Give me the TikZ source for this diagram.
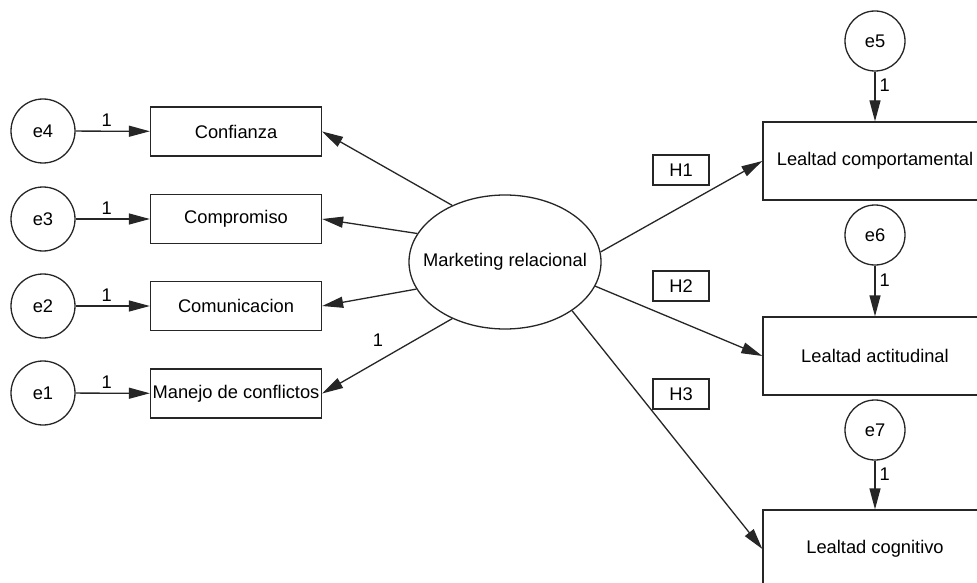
\documentclass[tikz,border=0pt]{standalone}
\usepackage{fontspec}
\setmainfont{Liberation Sans}
\usetikzlibrary{arrows.meta,shapes.geometric}
\begin{document}
\begin{tikzpicture}[x=1pt,y=-1pt,
  every node/.style={font=\fontsize{18.3}{21}\selectfont, text=black},
  ln/.style={draw=black!85, line width=1.3pt},
  arr/.style={ln, -{Triangle[length=21pt,width=11pt]}},
  errc/.style={ln, circle, minimum size=64pt, inner sep=0pt},
  lbox/.style={ln, rectangle, minimum width=171pt, minimum height=49pt, inner sep=0pt},
  rbox/.style={ln, rectangle, minimum width=224pt, minimum height=78pt, inner sep=0pt},
  hbox/.style={ln, rectangle, minimum width=56pt, minimum height=30pt, inner sep=0pt},
  one/.style={inner sep=0pt}]
\useasboundingbox (0,0) rectangle (977,583);
\clip (0,0) rectangle (977,583);
\fill[white] (0,0) rectangle (977,583);

% left side
\node[errc] (e4) at (43,131) {e4};
\node[errc] (e3) at (43,219) {e3};
\node[errc] (e2) at (43,306) {e2};
\node[errc] (e1) at (43,393) {e1};
\node[lbox] (conf) at (236,131.5) {Confianza};
\node[lbox] (comp) at (236,219) {Compromiso};
\node[lbox] (comu) at (236,306) {Comunicacion};
\node[lbox] (mane) at (236,393.5) {Manejo de conflictos};

\draw[arr] (e4) -- node[one, pos=0.42, above=4pt] {1} (conf);
\draw[arr] (e3) -- node[one, pos=0.42, above=4pt] {1} (comp);
\draw[arr] (e2) -- node[one, pos=0.42, above=4pt] {1} (comu);
\draw[arr] (e1) -- node[one, pos=0.42, above=4pt] {1} (mane);

% latent
\node[ln, ellipse, minimum width=192pt, minimum height=134pt, inner sep=0pt] (mr) at (505,262) {};
\node (mrtext) at (mr.center) {Marketing relacional};

\draw[arr] (mr.133.4) -- (conf.east);
\draw[arr] (mr.162.3) -- (comp.east);
\draw[arr] (mr.197.7) -- (comu.east);
\draw[arr] (mr.227) -- node[one, pos=0.57, above=14pt] {1} (mane.east);

% right side
\node[rbox] (lc) at (875,161) {Lealtad comportamental};
\node[rbox] (la) at (875,356) {Lealtad actitudinal};
\node[rbox] (lg) at (875,549) {Lealtad cognitivo};
\node[errc, minimum size=60pt] (e5) at (875,41) {e5};
\node[errc, minimum size=60pt] (e6) at (875,235) {e6};
\node[errc, minimum size=60pt] (e7) at (875,430) {e7};

\draw[arr] (e5) -- node[one, pos=0.28, right=4pt] {1} (lc);
\draw[arr] (e6) -- node[one, pos=0.28, right=4pt] {1} (la);
\draw[arr] (e7) -- node[one, pos=0.28, right=4pt] {1} (lg);

\node[hbox] (h1) at (681,170) {H1};
\node[hbox] (h2) at (681,286) {H2};
\node[hbox] (h3) at (681,394) {H3};

\draw[arr] (mr.6) -- (lc.west);
\draw[arr] (mr.-15.4) -- (la.west);
\draw[arr] (mr.-36.3) -- (lg.west);
\end{tikzpicture}
\end{document}
